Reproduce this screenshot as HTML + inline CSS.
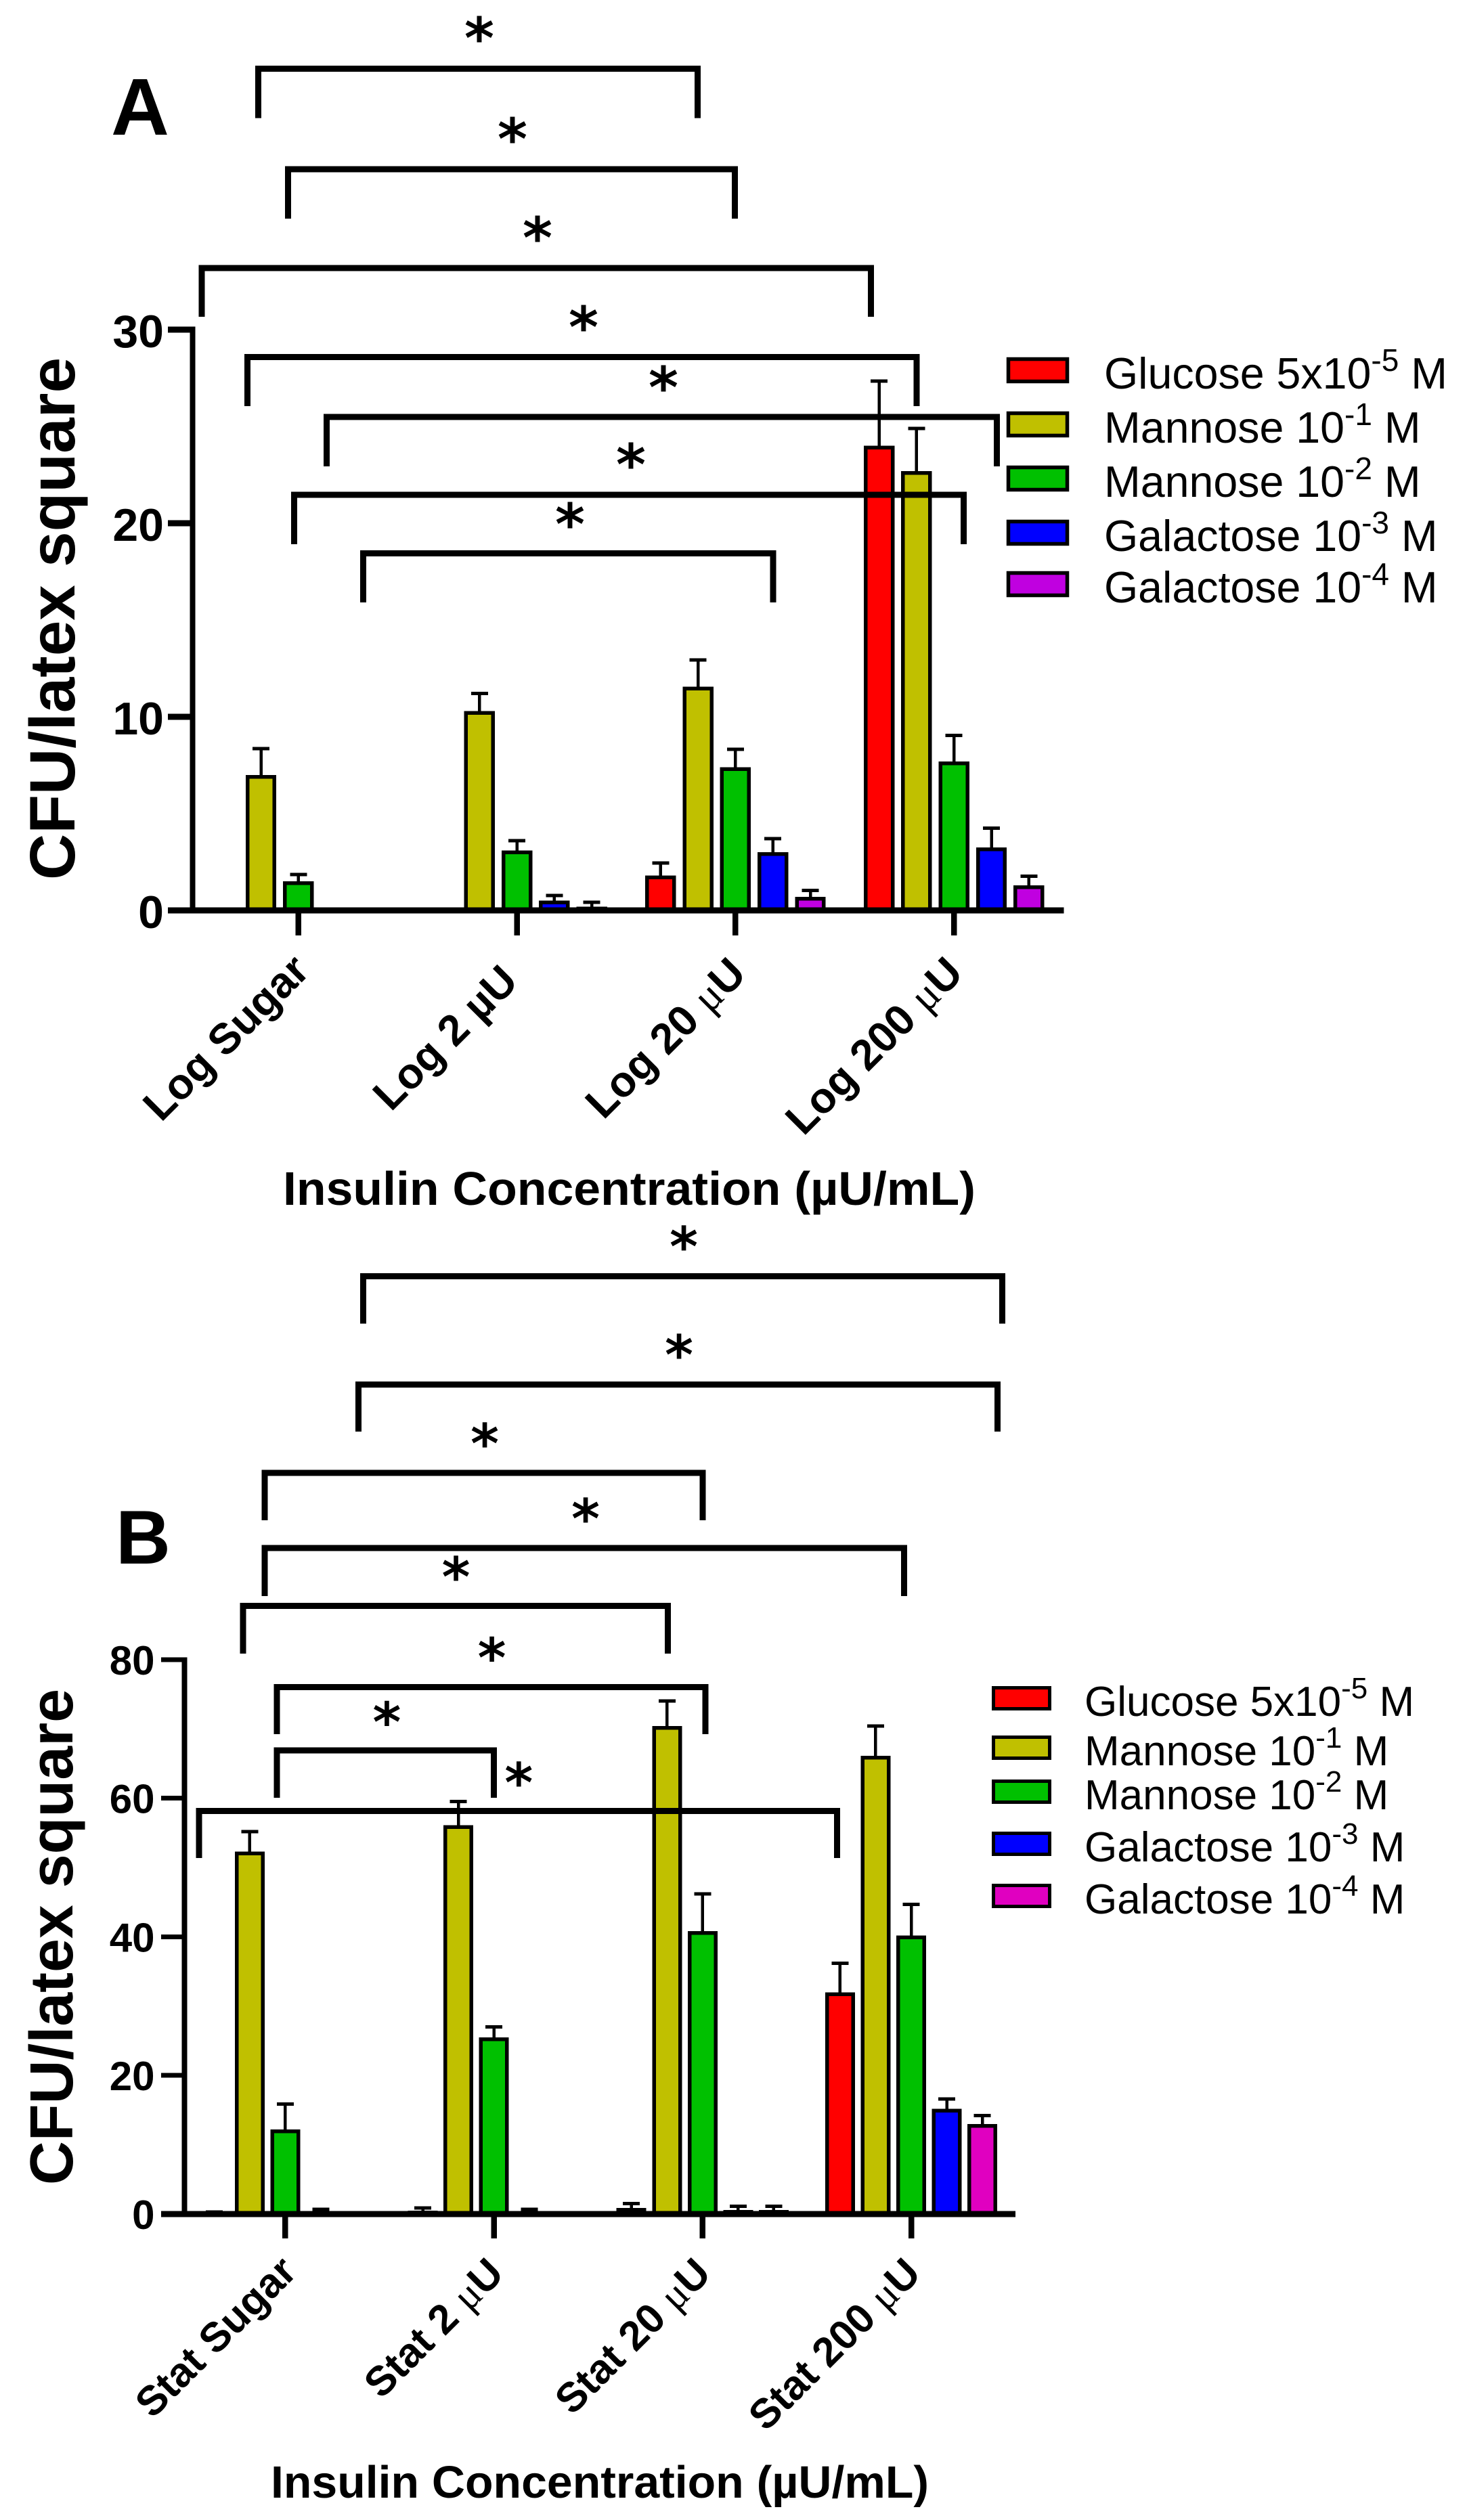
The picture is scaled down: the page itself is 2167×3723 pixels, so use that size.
<!DOCTYPE html>
<html lang="en">
<head>
<meta charset="utf-8">
<title>CFU per latex square by insulin concentration</title>
<style>
html,body{margin:0;padding:0;background:#fff;}
svg{display:block;}
text{font-family:"Liberation Sans",Arial,sans-serif;fill:#000;}
.b{font-weight:bold;}
.thin{font-family:"Liberation Serif",serif;font-weight:normal;}
.star{font-family:"DejaVu Sans",sans-serif;font-weight:bold;text-anchor:middle;}
.br{fill:none;stroke:#000;stroke-width:9;stroke-linejoin:miter;}
.sw{stroke:#000;}
</style>
</head>
<body>
<svg xmlns="http://www.w3.org/2000/svg" width="2167" height="3723" viewBox="0 0 2167 3723">
<rect width="2167" height="3723" fill="#fff"/>

<!-- PANEL A -->
<g id="bars-a" shape-rendering="crispEdges"></g>
<g id="axes-a" shape-rendering="crispEdges"></g>
<text class="b" x="164" y="199" font-size="119">A</text>
<text class="b" transform="translate(110,1300) rotate(-90)" font-size="94.5" textLength="772" lengthAdjust="spacingAndGlyphs">CFU/latex square</text>
<text class="b" x="418" y="1780" font-size="70" textLength="1023" lengthAdjust="spacingAndGlyphs">Insulin Concentration (µU/mL)</text>

<g font-size="63.5" class="b" text-anchor="end">
<text class="b" transform="translate(460,1437) rotate(-45)">Log Sugar</text>
<text class="b" transform="translate(768,1453) rotate(-45)">Log 2 µU</text>
<text class="b" transform="translate(1105,1442) rotate(-45)">Log 20 <tspan class="thin">μ</tspan>U</text>
<text class="b" transform="translate(1425.5,1441) rotate(-45)">Log 200 <tspan class="thin">μ</tspan>U</text>
</g>

<g shape-rendering="crispEdges">
<path class="br" d="M381.6 174.5V101.6H1030.6V174.5"/>
<path class="br" d="M425.5 323V250H1085.7V323"/>
<path class="br" d="M298 468V396H1286.7V468"/>
<path class="br" d="M365.3 600V527.5H1354V600"/>
<path class="br" d="M482.7 689V616H1472.4V689"/>
<path class="br" d="M434.7 804V731H1423.5V804"/>
<path class="br" d="M536.7 890V817.5H1141.8V890"/>
</g>
<g font-size="84">
<text class="star" x="708" y="86">*</text>
<text class="star" x="757" y="235">*</text>
<text class="star" x="794" y="381">*</text>
<text class="star" x="862" y="513">*</text>
<text class="star" x="980" y="602">*</text>
<text class="star" x="932" y="716">*</text>
<text class="star" x="842" y="804">*</text>
</g>

<g font-size="64.5">
<g><rect class="sw" x="1489.5" y="530.5" width="87" height="33" stroke-width="5.5" fill="#ff0000"/><text x="1631" y="574">Glucose 5x10<tspan dy="-26" font-size="46">-5</tspan><tspan dy="26"> M</tspan></text></g>
<g><rect class="sw" x="1489.5" y="610.5" width="87" height="33" stroke-width="5.5" fill="#c0c000"/><text x="1631" y="654">Mannose 10<tspan dy="-26" font-size="46">-1</tspan><tspan dy="26"> M</tspan></text></g>
<g><rect class="sw" x="1489.5" y="690.5" width="87" height="33" stroke-width="5.5" fill="#00c000"/><text x="1631" y="734">Mannose 10<tspan dy="-26" font-size="46">-2</tspan><tspan dy="26"> M</tspan></text></g>
<g><rect class="sw" x="1489.5" y="770.5" width="87" height="33" stroke-width="5.5" fill="#0000ff"/><text x="1631" y="814">Galactose 10<tspan dy="-26" font-size="46">-3</tspan><tspan dy="26"> M</tspan></text></g>
<g><rect class="sw" x="1489.5" y="846.5" width="87" height="33" stroke-width="5.5" fill="#c000e0"/><text x="1631" y="890">Galactose 10<tspan dy="-26" font-size="46">-4</tspan><tspan dy="26"> M</tspan></text></g>
</g>

<!-- PANEL B -->
<g id="bars-b" shape-rendering="crispEdges"></g>
<g id="axes-b" shape-rendering="crispEdges"></g>
<text class="b" x="171" y="2310" font-size="112">B</text>
<text class="b" transform="translate(107,3228) rotate(-90)" font-size="89.7" textLength="733" lengthAdjust="spacingAndGlyphs">CFU/latex square</text>
<text class="b" x="400" y="3690" font-size="67" textLength="972" lengthAdjust="spacingAndGlyphs">Insulin Concentration (µU/mL)</text>

<g font-size="61" class="b" text-anchor="end">
<text class="b" transform="translate(441,3359) rotate(-45)">Stat Sugar</text>
<text class="b" transform="translate(747,3362) rotate(-45)">Stat 2 <tspan class="thin">μ</tspan>U</text>
<text class="b" transform="translate(1053,3362) rotate(-45)">Stat 20 <tspan class="thin">μ</tspan>U</text>
<text class="b" transform="translate(1363,3362) rotate(-45)">Stat 200 <tspan class="thin">μ</tspan>U</text>
</g>

<g shape-rendering="crispEdges">
<path class="br" d="M536.7 1955.6V1885.5H1480.6V1955.6"/>
<path class="br" d="M529.6 2115V2045.5H1473.5V2115"/>
<path class="br" d="M390.8 2246V2176H1037.8V2246"/>
<path class="br" d="M390.8 2358V2287H1335.7V2358"/>
<path class="br" d="M359.2 2443V2372.7H986.7V2443"/>
<path class="br" d="M409.2 2562V2492.6H1041.8V2562"/>
<path class="br" d="M409.2 2656V2586H729.6V2656"/>
<path class="br" d="M293.9 2745V2675.6H1236.7V2745"/>
</g>
<g font-size="80">
<text class="star" x="1010" y="1870">*</text>
<text class="star" x="1003" y="2030">*</text>
<text class="star" x="716" y="2161">*</text>
<text class="star" x="865" y="2272">*</text>
<text class="star" x="673.5" y="2358">*</text>
<text class="star" x="726.5" y="2477.5">*</text>
<text class="star" x="571.4" y="2572.5">*</text>
<text class="star" x="766.3" y="2661.8">*</text>
</g>

<g font-size="62">
<g><rect class="sw" x="1467.5" y="2493.5" width="83" height="31" stroke-width="5" fill="#ff0000"/><text x="1602" y="2535">Glucose 5x10<tspan dy="-26" font-size="44">-5</tspan><tspan dy="26"> M</tspan></text></g>
<g><rect class="sw" x="1467.5" y="2566.5" width="83" height="31" stroke-width="5" fill="#c0c000"/><text x="1602" y="2608">Mannose 10<tspan dy="-26" font-size="44">-1</tspan><tspan dy="26"> M</tspan></text></g>
<g><rect class="sw" x="1467.5" y="2631.5" width="83" height="31" stroke-width="5" fill="#00c000"/><text x="1602" y="2673">Mannose 10<tspan dy="-26" font-size="44">-2</tspan><tspan dy="26"> M</tspan></text></g>
<g><rect class="sw" x="1467.5" y="2708.5" width="83" height="31" stroke-width="5" fill="#0000ff"/><text x="1602" y="2750">Galactose 10<tspan dy="-26" font-size="44">-3</tspan><tspan dy="26"> M</tspan></text></g>
<g><rect class="sw" x="1467.5" y="2785.5" width="83" height="31" stroke-width="5" fill="#e000c0"/><text x="1602" y="2827">Galactose 10<tspan dy="-26" font-size="44">-4</tspan><tspan dy="26"> M</tspan></text></g>
</g>
</svg>

<script>
// Panel A data
const categoriesA = ['log-sugar', 'log-2', 'log-20', 'log-200'];
const seriesNames = ['glucose', 'mannose-1', 'mannose-2', 'galactose-3', 'galactose-4'];
const glucoseA = [0, 0, 1.8, 24];
const glucoseErrA = [0, 0, 0.64, 3.35];
const mannose1A = [7, 10.3, 11.55, 22.7];
const mannose1ErrA = [1.35, 0.9, 1.38, 2.2];
const mannose2A = [1.5, 3.1, 7.4, 7.7];
const mannose2ErrA = [0.35, 0.5, 0.92, 1.33];
const galactose3A = [0, 0.5, 3, 3.25];
const galactose3ErrA = [0, 0.27, 0.7, 0.99];
const galactose4A = [0, 0.2, 0.7, 1.3];
const galactose4ErrA = [0, 0.22, 0.33, 0.47];
const yTicksA = [0, 10, 20, 30];

// Panel B data
const categoriesB = ['stat-sugar', 'stat-2', 'stat-20', 'stat-200'];
const glucoseB = [0.1, 0.5, 0.9, 32];
const glucoseErrB = [0.2, 0.4, 0.6, 4.2];
const mannose1B = [52.3, 56.1, 70.4, 66.1];
const mannose1ErrB = [2.9, 3.4, 3.6, 4.3];
const mannose2B = [12.2, 25.5, 40.8, 40.2];
const mannose2ErrB = [3.65, 1.5, 5.4, 4.5];
const galactose3B = [0.3, 0.3, 0.6, 15.2];
const galactose3ErrB = [0.4, 0.4, 0.5, 1.4];
const galactose4B = [0, 0, 0.6, 13];
const galactose4ErrB = [0, 0, 0.5, 1.2];
const yTicksB = [0, 20, 40, 60, 80];

const NS = 'http://www.w3.org/2000/svg';

function shape(parent, tag, props) {
  const el = document.createElementNS(NS, tag);
  for (const k in props) el.setAttribute(k, props[k]);
  parent.appendChild(el);
  return el;
}

function drawPanel(cfg) {
  const barsG = document.getElementById(cfg.barsId);
  const axesG = document.getElementById(cfg.axesId);
  const y = function (v) { return cfg.y0 - v * cfg.pxPerUnit; };
  const xGroup = function (i) { return cfg.x0 + i * cfg.groupStep; };
  const xBar = function (i, s) { return xGroup(i) + (s - 2) * cfg.barStep; };

  cfg.series.forEach(function (vals, s) {
    vals.forEach(function (v, i) {
      const cx = xBar(i, s);
      const top = y(v);
      const errTop = y(v + cfg.errors[s][i]);
      const stem = shape(barsG, 'line', { x1: cx, x2: cx, y1: top, y2: errTop, stroke: '#000', 'stroke-width': 4.5 });
      
      
      const cap = shape(barsG, 'line', { x1: cx - 12.5, x2: cx + 12.5, y1: errTop, y2: errTop, stroke: '#000', 'stroke-width': 5 });
      
      
      const bar = shape(barsG, 'rect', {
        x: cx - cfg.barW / 2 + 2.75, y: top + 2.75, width: cfg.barW - 5.5,
        height: Math.max(0, cfg.y0 - top - 2.75), fill: cfg.colors[s], stroke: '#000', 'stroke-width': 5.5
      });
      
      
    });
  });

  const yAxis = shape(axesG, 'line', { x1: cfg.axisX, x2: cfg.axisX, y1: y(cfg.yTicks[cfg.yTicks.length - 1]) - cfg.tickW / 2, y2: cfg.y0, stroke: '#000', 'stroke-width': 8 });
  
  
  const xAxis = shape(axesG, 'line', { x1: cfg.tickLeft, x2: cfg.axisEnd, y1: cfg.y0, y2: cfg.y0, stroke: '#000', 'stroke-width': cfg.baseW });
  
  

  cfg.yTicks.forEach(function (t) {
    const tick = shape(axesG, 'line', { x1: cfg.tickLeft, x2: cfg.axisX, y1: y(t), y2: y(t), stroke: '#000', 'stroke-width': cfg.tickW });
    
    
    const label = shape(axesG, 'text', { x: cfg.labelRight, y: y(t) + cfg.labelDrop, 'font-size': cfg.labelSize, 'font-weight': 'bold', 'text-anchor': 'end' });
    
    
    label.textContent = String(t);
  });

  cfg.categories.forEach(function (c, i) {
    const tick = shape(axesG, 'line', { x1: xGroup(i), x2: xGroup(i), y1: cfg.y0, y2: cfg.tickBottom, stroke: '#000', 'stroke-width': 8.5 });
    
    
  });
}

drawPanel({
  prefix: 'a', barsId: 'bars-a', axesId: 'axes-a', categories: categoriesA, yTicks: yTicksA,
  series: [glucoseA, mannose1A, mannose2A, galactose3A, galactose4A],
  errors: [glucoseErrA, mannose1ErrA, mannose2ErrA, galactose3ErrA, galactose4ErrA],
  colors: ['#ff0000', '#c0c000', '#00c000', '#0000ff', '#c000e0'],
  y0: 1345, pxPerUnit: 28.6, x0: 440.8, groupStep: 322.8, barStep: 55.3, barW: 45.4,
  axisX: 284.7, axisEnd: 1571.6, tickLeft: 247.8, tickBottom: 1382, tickW: 9, baseW: 9,
  labelRight: 242, labelDrop: 26, labelSize: 68
});

drawPanel({
  prefix: 'b', barsId: 'bars-b', axesId: 'axes-b', categories: categoriesB, yTicks: yTicksB,
  series: [glucoseB, mannose1B, mannose2B, galactose3B, galactose4B],
  errors: [glucoseErrB, mannose1ErrB, mannose2ErrB, galactose3ErrB, galactose4ErrB],
  colors: ['#ff0000', '#c0c000', '#00c000', '#0000ff', '#e000c0'],
  y0: 3271, pxPerUnit: 10.24, x0: 421.4, groupStep: 308.2, barStep: 52.55, barW: 44,
  axisX: 272.4, axisEnd: 1500, tickLeft: 237.8, tickBottom: 3307, tickW: 7, baseW: 9,
  labelRight: 228.5, labelDrop: 22, labelSize: 60
});
</script>
</body>
</html>
